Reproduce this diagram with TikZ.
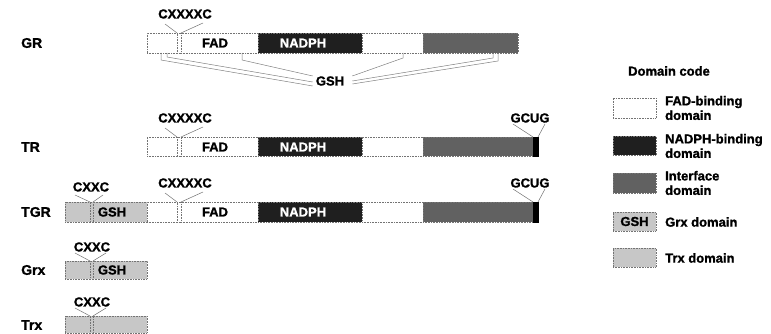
\documentclass[tikz,border=0pt]{standalone}
\usepackage{fontspec}
\setmainfont{Liberation Sans}[BoldFeatures={FakeBold=1.3}]
\begin{document}
\begin{tikzpicture}[x=1pt,y=-1pt,
  seg/.style={rectangle, draw=black!55, line width=0.6pt, densely dotted, inner sep=0pt, outer sep=0pt, anchor=north west, minimum height=20pt},
  wseg/.style={seg, fill=white},
  bseg/.style={seg, fill=black!88},
  iseg/.style={seg, fill=black!62},
  lseg/.style={seg, fill=black!22},
  kseg/.style={seg, fill=black, draw=black, solid},
  lab/.style={font=\bfseries\fontsize{13}{14.5}\selectfont, inner sep=0pt},
  rowlab/.style={lab, anchor=west, font=\bfseries\fontsize{14}{16}\selectfont},
  wlab/.style={lab, text=white},
  leg/.style={lab, anchor=west, align=left},
  pin/.style={draw=black!55, line width=0.5pt},
  gline/.style={draw=black!50, line width=0.5pt},
]
\useasboundingbox (0,0) rectangle (771,334);

% ---------- row labels ----------
\node[rowlab] (lGR)  at (21,43)  {GR};
\node[rowlab] (lTR)  at (21,147) {TR};
\node[rowlab] (lTGR) at (21,212) {TGR};
\node[rowlab] (lGrx) at (21,270) {Grx};
\node[rowlab] (lTrx) at (21,325) {Trx};

% ---------- GR ----------
\node[wseg, minimum width=30pt]  (gr1) at (147,33) {};
\node[wseg, minimum width=4pt]   (gr2) at (177,33) {};
\node[wseg, minimum width=77pt]  (grF) at (181,33) {};
\node[bseg, minimum width=104pt] (grN) at (258,33) {};
\node[wseg, minimum width=61pt]  (gr5) at (362,33) {};
\node[iseg, minimum width=95pt]  (grI) at (423,33) {};
\node[lab]  (grFt) at (215,43) {FAD};
\node[wlab] (grNt) at (303,43) {NADPH};
\node[lab]  (grC)  at (185,14) {CXXXXC};
\draw[pin] ([shift={(-20,10)}]grC.center) -- (gr2.north west);
\draw[pin] ([shift={(18,9)}]grC.center) -- (gr2.north east);

\node[lab] (gsh) at (330,81) {GSH};
\draw[gline] ([xshift=14pt]gr1.south west) -- ++(0,7) -- ([shift={(-3,5)}]gsh.west);
\draw[gline] ([xshift=20pt]gr1.south west) -- ++(0,4) -- ([shift={(-3,1)}]gsh.west);
\draw[gline] ([xshift=61pt]grF.south west) -- ++(0,7) -- ([shift={(-3,-5)}]gsh.west);
\draw[gline] ([xshift=41pt]gr5.south west) -- ++(0,5) -- ([shift={(8,-5)}]gsh.east);
\draw[gline] ([xshift=70pt]grI.south west) -- ++(0,5) -- ([shift={(8,0)}]gsh.east);
\draw[gline] ([xshift=75pt]grI.south west) -- ++(0,8) -- ([shift={(8,3)}]gsh.east);

% ---------- TR ----------
\node[wseg, minimum width=30pt, minimum height=19pt]  (tr1) at (147,137) {};
\node[wseg, minimum width=4pt, minimum height=19pt]   (tr2) at (177,137) {};
\node[wseg, minimum width=77pt, minimum height=19pt]  (trF) at (181,137) {};
\node[bseg, minimum width=104pt, minimum height=19pt] (trN) at (258,137) {};
\node[wseg, minimum width=61pt, minimum height=19pt]  (tr5) at (362,137) {};
\node[iseg, minimum width=110pt, minimum height=19pt] (trI) at (423,137) {};
\node[kseg, minimum width=5pt, minimum height=19pt]   (trU) at (533,137) {};
\node[lab]  (trFt) at (215,147) {FAD};
\node[wlab] (trNt) at (303,147) {NADPH};
\node[lab]  (trC)  at (185,118) {CXXXXC};
\draw[pin] ([shift={(-20,10)}]trC.center) -- (tr2.north west);
\draw[pin] ([shift={(18,9)}]trC.center) -- (tr2.north east);
\node[lab]  (trG)  at (530,118) {GCUG};
\draw[pin] ([shift={(-17,6)}]trG.center) -- (trU.north west);
\draw[pin] ([shift={(15,6)}]trG.center) -- (trU.north east);

% ---------- TGR ----------
\node[lseg, minimum width=25pt]  (tg1) at (65,202) {};
\node[lseg, minimum width=3pt]   (tg2) at (90,202) {};
\node[lseg, minimum width=54pt]  (tg3) at (93,202) {};
\node[wseg, minimum width=30pt]  (tg4) at (147,202) {};
\node[wseg, minimum width=4pt]   (tg5) at (177,202) {};
\node[wseg, minimum width=77pt]  (tgF) at (181,202) {};
\node[bseg, minimum width=104pt] (tgN) at (258,202) {};
\node[wseg, minimum width=61pt]  (tg8) at (362,202) {};
\node[iseg, minimum width=110pt] (tgI) at (423,202) {};
\node[kseg, minimum width=5pt]   (tgU) at (533,202) {};
\node[lab]  (tgGt) at (112,212) {GSH};
\node[lab]  (tgFt) at (215,212) {FAD};
\node[wlab] (tgNt) at (303,212) {NADPH};
\node[lab]  (tgC2) at (91,187) {CXXC};
\draw[pin] ([shift={(-16,8)}]tgC2.center) -- (tg2.north west);
\draw[pin] ([shift={(12,8)}]tgC2.center) -- (tg2.north east);
\node[lab]  (tgC)  at (185,183) {CXXXXC};
\draw[pin] ([shift={(-20,10)}]tgC.center) -- (tg5.north west);
\draw[pin] ([shift={(18,9)}]tgC.center) -- (tg5.north east);
\node[lab]  (tgG)  at (530,183) {GCUG};
\draw[pin] ([shift={(-17,6)}]tgG.center) -- (tgU.north west);
\draw[pin] ([shift={(15,6)}]tgG.center) -- (tgU.north east);

% ---------- Grx ----------
\node[lseg, minimum width=25pt, minimum height=18pt] (gx1) at (65,261) {};
\node[lseg, minimum width=3pt, minimum height=18pt]  (gx2) at (90,261) {};
\node[lseg, minimum width=54pt, minimum height=18pt] (gx3) at (93,261) {};
\node[lab] (gxGt) at (112,270) {GSH};
\node[lab] (gxC)  at (92,247) {CXXC};
\draw[pin] ([shift={(-17,6)}]gxC.center) -- (gx2.north west);
\draw[pin] ([shift={(14,6)}]gxC.center) -- (gx2.north east);

% ---------- Trx ----------
\node[lseg, minimum width=25pt, minimum height=17pt] (tx1) at (65,316) {};
\node[lseg, minimum width=3pt, minimum height=17pt]  (tx2) at (90,316) {};
\node[lseg, minimum width=54pt, minimum height=17pt] (tx3) at (93,316) {};
\node[lab] (txC)  at (92,302) {CXXC};
\draw[pin] ([shift={(-17,6)}]txC.center) -- (tx2.north west);
\draw[pin] ([shift={(14,6)}]txC.center) -- (tx2.north east);

% ---------- legend ----------
\node[leg] (legT) at (628,71) {Domain code};
\node[wseg, minimum width=43pt] (k1) at (613,98) {};
\node[leg] (k1t) at (665,108) {FAD-binding\\domain};
\node[bseg, minimum width=43pt, minimum height=19pt] (k2) at (613,136) {};
\node[leg] (k2t) at (665,146) {NADPH-binding\\domain};
\node[iseg, minimum width=43pt] (k3) at (613,173) {};
\node[leg] (k3t) at (665,183) {Interface\\domain};
\node[lseg, minimum width=43pt, minimum height=19pt] (k4) at (613,212) {};
\node[lab] (k4g) at (634.5,221.5) {GSH};
\node[leg] (k4t) at (665,222) {Grx domain};
\node[lseg, minimum width=43pt, minimum height=19pt] (k5) at (613,248) {};
\node[leg] (k5t) at (665,258) {Trx domain};
\end{tikzpicture}
\end{document}
